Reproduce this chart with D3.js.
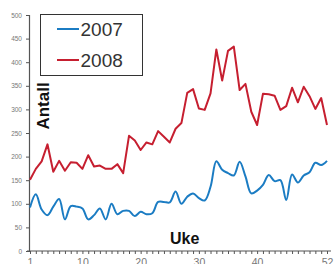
<!DOCTYPE html>
<html>
<head>
<meta charset="utf-8">
<script src="https://cdn.jsdelivr.net/npm/d3@7"></script>
<style>
  body { margin: 0; background: #fff; }
  svg { display: block; font-family: "Liberation Sans", Arial, sans-serif; }
</style>
</head>
<body>
<script>
var width = 334, height = 264

// weekly counts
var weeks = d3.range(1, 53)
var v2007 = [92, 120, 88, 76, 94, 110, 67, 95, 94, 90, 67, 76, 90, 67, 100, 78, 85, 85, 74, 83,
             78, 80, 104, 104, 103, 126, 100, 115, 122, 112, 107, 136, 190, 172, 165, 160, 189, 158,
             122, 128, 140, 161, 148, 150, 108, 162, 145, 160, 167, 187, 182, 191]
var v2008 = [151, 174, 190, 226, 168, 191, 170, 188, 187, 174, 203, 179, 181, 174, 174, 184, 165, 244,
             234, 214, 230, 226, 254, 242, 230, 259, 271, 335, 343, 302, 299, 334, 427, 361, 424, 433,
             341, 354, 295, 267, 333, 332, 329, 299, 307, 346, 315, 348, 328, 301, 324, 267]
var series = [
  {name: "2007", values: v2007, color: "#1b7cc3", smooth: true},
  {name: "2008", values: v2008, color: "#c61f30", smooth: false}
]
var yTicks = d3.range(0, 501, 50)
var xLabels = [1, 10, 20, 30, 40, 52]

var svg = d3.select("body").append("svg")
    .attr("width", width)
    .attr("height", height)

var x = d3.scaleLinear().domain([1, 52]).range([30, 327])
var y = d3.scaleLinear().domain([0, 500]).range([251, 15])

//y axis
var yAxis = svg.append("g")
  .attr("transform", "translate(29,0)")
  .call(d3.axisLeft(y).tickValues(yTicks).tickSize(3).tickPadding(4))
yAxis.select(".domain").attr("stroke", "#555").attr("stroke-width", 1.2)
yAxis.selectAll(".tick line").attr("stroke", "#555")
yAxis.selectAll("text").attr("fill", "#777").style("font-size", "6.5px")

//x axis, one tick per week
var xAxis = svg.append("g")
  .attr("transform", "translate(0,251)")
  .call(d3.axisBottom(x).tickValues(weeks).tickSize(3).tickPadding(4.5)
    .tickFormat(function(d) { return xLabels.indexOf(d) >= 0 ? d : "" }))
xAxis.select(".domain").attr("d", "M27,0H331").attr("stroke", "#555").attr("stroke-width", 1.2)
xAxis.selectAll(".tick line").attr("stroke", "#555")
xAxis.selectAll("text").attr("fill", "#777").style("font-size", "10.5px")

//lines
series.forEach(function(s) {
  var line = d3.line()
    .x(function(d, i) { return x(weeks[i]) })
    .y(function(d) { return y(d) })
    .curve(s.smooth ? d3.curveCatmullRom : d3.curveLinear)
  svg.append("path")
    .datum(s.values)
    .attr("fill", "none")
    .attr("stroke", s.color)
    .attr("stroke-width", 2)
    .attr("stroke-linejoin", "round")
    .attr("d", line)
})

//axis titles
svg.append("text")
  .attr("transform", "translate(49,106) rotate(-90)")
  .attr("text-anchor", "middle")
  .style("font-size", "17px").style("font-weight", "bold")
  .attr("fill", "#111")
  .text("Antall")

svg.append("text")
  .attr("x", 170).attr("y", 244)
  .style("font-size", "16px").style("font-weight", "bold")
  .attr("fill", "#111")
  .text("Uke")

//legend
var legend = svg.append("g")
legend.append("rect")
  .attr("x", 40.5).attr("y", 14.5).attr("width", 102).attr("height", 61)
  .attr("fill", "#fff").attr("stroke", "#333").attr("stroke-width", 1)
var item = legend.selectAll(".item")
  .data(series)
  .enter().append("g")
  .attr("transform", function(d, i) { return "translate(0," + (29 + i * 31) + ")" })
item.append("line")
  .attr("x1", 57).attr("x2", 79)
  .attr("stroke", function(d) { return d.color })
  .attr("stroke-width", 2)
item.append("text")
  .attr("x", 80.5).attr("y", 7)
  .style("font-size", "19px")
  .attr("fill", "#333")
  .text(function(d) { return d.name })
</script>
</body>
</html>
